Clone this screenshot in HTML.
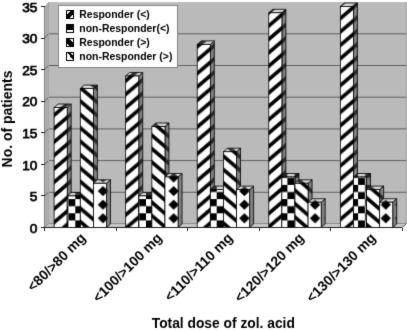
<!DOCTYPE html><html><head><meta charset="utf-8"><style>html,body{margin:0;padding:0;background:#fff;}svg{display:block;will-change:transform;}text{font-family:"Liberation Sans",sans-serif;font-weight:bold;}</style></head><body>
<svg width="407" height="331" viewBox="0 0 407 331">
<defs>
<pattern id="upF" patternUnits="userSpaceOnUse" x="55" y="127.8" width="15.71" height="13.4"><rect width="15.71" height="13.4" fill="#fff"/><polygon points="0,2.4 0,-2.4 15.71,-15.8 15.71,-11" fill="#000"/><polygon points="0,15.8 0,11 15.71,-2.4 15.71,2.4" fill="#000"/><polygon points="0,29.2 0,24.4 15.71,11 15.71,15.8" fill="#000"/></pattern>
<pattern id="dnF" patternUnits="userSpaceOnUse" x="55" y="133.1" width="15.71" height="13.4"><rect width="15.71" height="13.4" fill="#fff"/><polygon points="0,-15.8 0,-11 15.71,2.4 15.71,-2.4" fill="#000"/><polygon points="0,-2.4 0,2.4 15.71,15.8 15.71,11" fill="#000"/><polygon points="0,11 0,15.8 15.71,29.2 15.71,24.4" fill="#000"/></pattern>
<pattern id="ckF" patternUnits="userSpaceOnUse" x="75.3" y="213.3" width="14.14" height="14.2"><rect width="14.14" height="14.2" fill="#fff"/><rect x="0" y="7.1" width="7.07" height="7.1" fill="#000"/><rect x="7.07" y="0" width="7.07" height="7.1" fill="#000"/></pattern>
<pattern id="dmF" patternUnits="userSpaceOnUse" x="95.93" y="211.5" width="14.14" height="13.6"><rect width="14.14" height="13.6" fill="#fff"/><polygon points="7.07,1.6 12.27,6.8 7.07,12 1.87,6.8" fill="#000"/></pattern>
<pattern id="upS" patternUnits="userSpaceOnUse" x="55" y="127.8" width="15.71" height="13.4"><rect width="15.71" height="13.4" fill="#808080"/><polygon points="0,2.4 0,-2.4 15.71,-15.8 15.71,-11" fill="#2a2a2a"/><polygon points="0,15.8 0,11 15.71,-2.4 15.71,2.4" fill="#2a2a2a"/><polygon points="0,29.2 0,24.4 15.71,11 15.71,15.8" fill="#2a2a2a"/></pattern>
<pattern id="dnS" patternUnits="userSpaceOnUse" x="55" y="133.1" width="15.71" height="13.4"><rect width="15.71" height="13.4" fill="#808080"/><polygon points="0,-15.8 0,-11 15.71,2.4 15.71,-2.4" fill="#2a2a2a"/><polygon points="0,-2.4 0,2.4 15.71,15.8 15.71,11" fill="#2a2a2a"/><polygon points="0,11 0,15.8 15.71,29.2 15.71,24.4" fill="#2a2a2a"/></pattern>
<pattern id="ckS" patternUnits="userSpaceOnUse" x="75.3" y="213.3" width="14.14" height="14.2"><rect width="14.14" height="14.2" fill="#808080"/><rect x="0" y="7.1" width="7.07" height="7.1" fill="#2a2a2a"/><rect x="7.07" y="0" width="7.07" height="7.1" fill="#2a2a2a"/></pattern>
<pattern id="dmS" patternUnits="userSpaceOnUse" x="95.93" y="211.5" width="14.14" height="13.6"><rect width="14.14" height="13.6" fill="#808080"/><polygon points="7.07,1.6 12.27,6.8 7.07,12 1.87,6.8" fill="#2a2a2a"/></pattern>
<pattern id="upT" patternUnits="userSpaceOnUse" x="55" y="127.8" width="15.71" height="13.4"><rect width="15.71" height="13.4" fill="#d4d4d4"/><polygon points="0,2.4 0,-2.4 15.71,-15.8 15.71,-11" fill="#333"/><polygon points="0,15.8 0,11 15.71,-2.4 15.71,2.4" fill="#333"/><polygon points="0,29.2 0,24.4 15.71,11 15.71,15.8" fill="#333"/></pattern>
<pattern id="dnT" patternUnits="userSpaceOnUse" x="55" y="133.1" width="15.71" height="13.4"><rect width="15.71" height="13.4" fill="#d4d4d4"/><polygon points="0,-15.8 0,-11 15.71,2.4 15.71,-2.4" fill="#333"/><polygon points="0,-2.4 0,2.4 15.71,15.8 15.71,11" fill="#333"/><polygon points="0,11 0,15.8 15.71,29.2 15.71,24.4" fill="#333"/></pattern>
<pattern id="ckT" patternUnits="userSpaceOnUse" x="75.3" y="213.3" width="14.14" height="14.2"><rect width="14.14" height="14.2" fill="#d4d4d4"/><rect x="0" y="7.1" width="7.07" height="7.1" fill="#333"/><rect x="7.07" y="0" width="7.07" height="7.1" fill="#333"/></pattern>
<pattern id="dmT" patternUnits="userSpaceOnUse" x="95.93" y="211.5" width="14.14" height="13.6"><rect width="14.14" height="13.6" fill="#d4d4d4"/><polygon points="7.07,1.6 12.27,6.8 7.07,12 1.87,6.8" fill="#333"/></pattern>
<filter id="bl" x="0" y="0" width="407" height="331" filterUnits="userSpaceOnUse" color-interpolation-filters="sRGB"><feConvolveMatrix order="3" kernelMatrix="1 8 1 8 64 8 1 8 1" divisor="100" edgeMode="duplicate"/></filter>
</defs>
<g filter="url(#bl)">
<rect x="48.5" y="2.1" width="358.5" height="221.9" fill="#bababa"/>
<rect x="406" y="2.1" width="1" height="221.9" fill="#a8a8a8"/>
<polygon points="44.5,6.5 48.5,2.1 48.5,224 44.5,227.5" fill="#acacac"/>
<polygon points="44.5,227.5 48.5,224 406.3,224 402.3,227.5" fill="#c6c6c6"/>
<line x1="48.5" y1="223.5" x2="406.3" y2="223.5" stroke="#8c8c8c" stroke-width="1" shape-rendering="crispEdges"/>
<line x1="44.5" y1="227.5" x2="48.5" y2="224" stroke="#8c8c8c" stroke-width="1"/>
<line x1="44.5" y1="195.93" x2="48.5" y2="192.3" stroke="#606060" stroke-width="1"/>
<line x1="48.5" y1="192.3" x2="406" y2="192.3" stroke="#606060" stroke-width="1"/>
<line x1="44.5" y1="164.36" x2="48.5" y2="160.6" stroke="#606060" stroke-width="1"/>
<line x1="48.5" y1="160.6" x2="406" y2="160.6" stroke="#606060" stroke-width="1"/>
<line x1="44.5" y1="132.79" x2="48.5" y2="128.9" stroke="#606060" stroke-width="1"/>
<line x1="48.5" y1="128.9" x2="406" y2="128.9" stroke="#606060" stroke-width="1"/>
<line x1="44.5" y1="101.21" x2="48.5" y2="97.2" stroke="#606060" stroke-width="1"/>
<line x1="48.5" y1="97.2" x2="406" y2="97.2" stroke="#606060" stroke-width="1"/>
<line x1="44.5" y1="69.64" x2="48.5" y2="65.5" stroke="#606060" stroke-width="1"/>
<line x1="48.5" y1="65.5" x2="406" y2="65.5" stroke="#606060" stroke-width="1"/>
<line x1="44.5" y1="38.07" x2="48.5" y2="33.8" stroke="#606060" stroke-width="1"/>
<line x1="48.5" y1="33.8" x2="406" y2="33.8" stroke="#606060" stroke-width="1"/>
<line x1="48.5" y1="2.1" x2="48.5" y2="224" stroke="#a4a4a4" stroke-width="1" shape-rendering="crispEdges"/>
<polygon points="67.2,107.53 71.2,104.03 71.2,224 67.2,227.5" fill="url(#upS)" stroke="#000" stroke-width="0.8"/>
<polygon points="54.1,107.53 58.1,104.03 71.2,104.03 67.2,107.53" fill="url(#upT)" stroke="#000" stroke-width="0.8"/>
<rect x="54.1" y="107.53" width="13.1" height="119.97" fill="url(#upF)" stroke="#000" stroke-width="0.8"/>
<polygon points="80.3,195.93 84.3,192.43 84.3,224 80.3,227.5" fill="url(#ckS)" stroke="#000" stroke-width="0.8"/>
<polygon points="67.2,195.93 71.2,192.43 84.3,192.43 80.3,195.93" fill="url(#ckT)" stroke="#000" stroke-width="0.8"/>
<rect x="67.2" y="195.93" width="13.1" height="31.57" fill="url(#ckF)" stroke="#000" stroke-width="0.8"/>
<polygon points="93.4,88.59 97.4,85.09 97.4,224 93.4,227.5" fill="url(#dnS)" stroke="#000" stroke-width="0.8"/>
<polygon points="80.3,88.59 84.3,85.09 97.4,85.09 93.4,88.59" fill="url(#dnT)" stroke="#000" stroke-width="0.8"/>
<rect x="80.3" y="88.59" width="13.1" height="138.91" fill="url(#dnF)" stroke="#000" stroke-width="0.8"/>
<polygon points="106.5,183.3 110.5,179.8 110.5,224 106.5,227.5" fill="url(#dmS)" stroke="#000" stroke-width="0.8"/>
<polygon points="93.4,183.3 97.4,179.8 110.5,179.8 106.5,183.3" fill="url(#dmT)" stroke="#000" stroke-width="0.8"/>
<rect x="93.4" y="183.3" width="13.1" height="44.2" fill="url(#dmF)" stroke="#000" stroke-width="0.8"/>
<polygon points="138.76,75.96 142.76,72.46 142.76,224 138.76,227.5" fill="url(#upS)" stroke="#000" stroke-width="0.8"/>
<polygon points="125.66,75.96 129.66,72.46 142.76,72.46 138.76,75.96" fill="url(#upT)" stroke="#000" stroke-width="0.8"/>
<rect x="125.66" y="75.96" width="13.1" height="151.54" fill="url(#upF)" stroke="#000" stroke-width="0.8"/>
<polygon points="151.86,195.93 155.86,192.43 155.86,224 151.86,227.5" fill="url(#ckS)" stroke="#000" stroke-width="0.8"/>
<polygon points="138.76,195.93 142.76,192.43 155.86,192.43 151.86,195.93" fill="url(#ckT)" stroke="#000" stroke-width="0.8"/>
<rect x="138.76" y="195.93" width="13.1" height="31.57" fill="url(#ckF)" stroke="#000" stroke-width="0.8"/>
<polygon points="164.96,126.47 168.96,122.97 168.96,224 164.96,227.5" fill="url(#dnS)" stroke="#000" stroke-width="0.8"/>
<polygon points="151.86,126.47 155.86,122.97 168.96,122.97 164.96,126.47" fill="url(#dnT)" stroke="#000" stroke-width="0.8"/>
<rect x="151.86" y="126.47" width="13.1" height="101.03" fill="url(#dnF)" stroke="#000" stroke-width="0.8"/>
<polygon points="178.06,176.99 182.06,173.49 182.06,224 178.06,227.5" fill="url(#dmS)" stroke="#000" stroke-width="0.8"/>
<polygon points="164.96,176.99 168.96,173.49 182.06,173.49 178.06,176.99" fill="url(#dmT)" stroke="#000" stroke-width="0.8"/>
<rect x="164.96" y="176.99" width="13.1" height="50.51" fill="url(#dmF)" stroke="#000" stroke-width="0.8"/>
<polygon points="210.32,44.39 214.32,40.89 214.32,224 210.32,227.5" fill="url(#upS)" stroke="#000" stroke-width="0.8"/>
<polygon points="197.22,44.39 201.22,40.89 214.32,40.89 210.32,44.39" fill="url(#upT)" stroke="#000" stroke-width="0.8"/>
<rect x="197.22" y="44.39" width="13.1" height="183.11" fill="url(#upF)" stroke="#000" stroke-width="0.8"/>
<polygon points="223.42,189.61 227.42,186.11 227.42,224 223.42,227.5" fill="url(#ckS)" stroke="#000" stroke-width="0.8"/>
<polygon points="210.32,189.61 214.32,186.11 227.42,186.11 223.42,189.61" fill="url(#ckT)" stroke="#000" stroke-width="0.8"/>
<rect x="210.32" y="189.61" width="13.1" height="37.89" fill="url(#ckF)" stroke="#000" stroke-width="0.8"/>
<polygon points="236.52,151.73 240.52,148.23 240.52,224 236.52,227.5" fill="url(#dnS)" stroke="#000" stroke-width="0.8"/>
<polygon points="223.42,151.73 227.42,148.23 240.52,148.23 236.52,151.73" fill="url(#dnT)" stroke="#000" stroke-width="0.8"/>
<rect x="223.42" y="151.73" width="13.1" height="75.77" fill="url(#dnF)" stroke="#000" stroke-width="0.8"/>
<polygon points="249.62,189.61 253.62,186.11 253.62,224 249.62,227.5" fill="url(#dmS)" stroke="#000" stroke-width="0.8"/>
<polygon points="236.52,189.61 240.52,186.11 253.62,186.11 249.62,189.61" fill="url(#dmT)" stroke="#000" stroke-width="0.8"/>
<rect x="236.52" y="189.61" width="13.1" height="37.89" fill="url(#dmF)" stroke="#000" stroke-width="0.8"/>
<polygon points="281.88,12.81 285.88,9.31 285.88,224 281.88,227.5" fill="url(#upS)" stroke="#000" stroke-width="0.8"/>
<polygon points="268.78,12.81 272.78,9.31 285.88,9.31 281.88,12.81" fill="url(#upT)" stroke="#000" stroke-width="0.8"/>
<rect x="268.78" y="12.81" width="13.1" height="214.69" fill="url(#upF)" stroke="#000" stroke-width="0.8"/>
<polygon points="294.98,176.99 298.98,173.49 298.98,224 294.98,227.5" fill="url(#ckS)" stroke="#000" stroke-width="0.8"/>
<polygon points="281.88,176.99 285.88,173.49 298.98,173.49 294.98,176.99" fill="url(#ckT)" stroke="#000" stroke-width="0.8"/>
<rect x="281.88" y="176.99" width="13.1" height="50.51" fill="url(#ckF)" stroke="#000" stroke-width="0.8"/>
<polygon points="308.08,183.3 312.08,179.8 312.08,224 308.08,227.5" fill="url(#dnS)" stroke="#000" stroke-width="0.8"/>
<polygon points="294.98,183.3 298.98,179.8 312.08,179.8 308.08,183.3" fill="url(#dnT)" stroke="#000" stroke-width="0.8"/>
<rect x="294.98" y="183.3" width="13.1" height="44.2" fill="url(#dnF)" stroke="#000" stroke-width="0.8"/>
<polygon points="321.18,202.24 325.18,198.74 325.18,224 321.18,227.5" fill="url(#dmS)" stroke="#000" stroke-width="0.8"/>
<polygon points="308.08,202.24 312.08,198.74 325.18,198.74 321.18,202.24" fill="url(#dmT)" stroke="#000" stroke-width="0.8"/>
<rect x="308.08" y="202.24" width="13.1" height="25.26" fill="url(#dmF)" stroke="#000" stroke-width="0.8"/>
<polygon points="353.44,6.5 357.44,3 357.44,224 353.44,227.5" fill="url(#upS)" stroke="#000" stroke-width="0.8"/>
<polygon points="340.34,6.5 344.34,3 357.44,3 353.44,6.5" fill="url(#upT)" stroke="#000" stroke-width="0.8"/>
<rect x="340.34" y="6.5" width="13.1" height="221" fill="url(#upF)" stroke="#000" stroke-width="0.8"/>
<polygon points="366.54,176.99 370.54,173.49 370.54,224 366.54,227.5" fill="url(#ckS)" stroke="#000" stroke-width="0.8"/>
<polygon points="353.44,176.99 357.44,173.49 370.54,173.49 366.54,176.99" fill="url(#ckT)" stroke="#000" stroke-width="0.8"/>
<rect x="353.44" y="176.99" width="13.1" height="50.51" fill="url(#ckF)" stroke="#000" stroke-width="0.8"/>
<polygon points="379.64,189.61 383.64,186.11 383.64,224 379.64,227.5" fill="url(#dnS)" stroke="#000" stroke-width="0.8"/>
<polygon points="366.54,189.61 370.54,186.11 383.64,186.11 379.64,189.61" fill="url(#dnT)" stroke="#000" stroke-width="0.8"/>
<rect x="366.54" y="189.61" width="13.1" height="37.89" fill="url(#dnF)" stroke="#000" stroke-width="0.8"/>
<polygon points="392.74,202.24 396.74,198.74 396.74,224 392.74,227.5" fill="url(#dmS)" stroke="#000" stroke-width="0.8"/>
<polygon points="379.64,202.24 383.64,198.74 396.74,198.74 392.74,202.24" fill="url(#dmT)" stroke="#000" stroke-width="0.8"/>
<rect x="379.64" y="202.24" width="13.1" height="25.26" fill="url(#dmF)" stroke="#000" stroke-width="0.8"/>
<line x1="44.5" y1="6.5" x2="44.5" y2="227.5" stroke="#858585" stroke-width="1" shape-rendering="crispEdges"/>
<line x1="41" y1="227.5" x2="402.3" y2="227.5" stroke="#222" stroke-width="1" shape-rendering="crispEdges"/>
<line x1="402.3" y1="227.5" x2="406.3" y2="224" stroke="#555" stroke-width="1"/>
<line x1="41" y1="227.5" x2="45" y2="227.5" stroke="#222" stroke-width="1" shape-rendering="crispEdges"/>
<text x="37.4" y="232.75" font-size="13.7" text-anchor="end" style="font-weight:normal;stroke:#000;stroke-width:0.75px;paint-order:stroke">0</text>
<line x1="41" y1="195.93" x2="45" y2="195.93" stroke="#222" stroke-width="1" shape-rendering="crispEdges"/>
<text x="37.4" y="201.18" font-size="13.7" text-anchor="end" style="font-weight:normal;stroke:#000;stroke-width:0.75px;paint-order:stroke">5</text>
<line x1="41" y1="164.36" x2="45" y2="164.36" stroke="#222" stroke-width="1" shape-rendering="crispEdges"/>
<text x="37.4" y="169.61" font-size="13.7" text-anchor="end" style="font-weight:normal;stroke:#000;stroke-width:0.75px;paint-order:stroke">10</text>
<line x1="41" y1="132.79" x2="45" y2="132.79" stroke="#222" stroke-width="1" shape-rendering="crispEdges"/>
<text x="37.4" y="138.04" font-size="13.7" text-anchor="end" style="font-weight:normal;stroke:#000;stroke-width:0.75px;paint-order:stroke">15</text>
<line x1="41" y1="101.21" x2="45" y2="101.21" stroke="#222" stroke-width="1" shape-rendering="crispEdges"/>
<text x="37.4" y="106.46" font-size="13.7" text-anchor="end" style="font-weight:normal;stroke:#000;stroke-width:0.75px;paint-order:stroke">20</text>
<line x1="41" y1="69.64" x2="45" y2="69.64" stroke="#222" stroke-width="1" shape-rendering="crispEdges"/>
<text x="37.4" y="74.89" font-size="13.7" text-anchor="end" style="font-weight:normal;stroke:#000;stroke-width:0.75px;paint-order:stroke">25</text>
<line x1="41" y1="38.07" x2="45" y2="38.07" stroke="#222" stroke-width="1" shape-rendering="crispEdges"/>
<text x="37.4" y="43.32" font-size="13.7" text-anchor="end" style="font-weight:normal;stroke:#000;stroke-width:0.75px;paint-order:stroke">30</text>
<line x1="41" y1="6.5" x2="45" y2="6.5" stroke="#222" stroke-width="1" shape-rendering="crispEdges"/>
<text x="37.4" y="11.75" font-size="13.7" text-anchor="end" style="font-weight:normal;stroke:#000;stroke-width:0.75px;paint-order:stroke">35</text>
<line x1="44.5" y1="227.5" x2="44.5" y2="230.5" stroke="#222" stroke-width="1" shape-rendering="crispEdges"/>
<line x1="116.06" y1="227.5" x2="116.06" y2="230.5" stroke="#222" stroke-width="1" shape-rendering="crispEdges"/>
<line x1="187.62" y1="227.5" x2="187.62" y2="230.5" stroke="#222" stroke-width="1" shape-rendering="crispEdges"/>
<line x1="259.18" y1="227.5" x2="259.18" y2="230.5" stroke="#222" stroke-width="1" shape-rendering="crispEdges"/>
<line x1="330.74" y1="227.5" x2="330.74" y2="230.5" stroke="#222" stroke-width="1" shape-rendering="crispEdges"/>
<line x1="402.3" y1="227.5" x2="402.3" y2="230.5" stroke="#222" stroke-width="1" shape-rendering="crispEdges"/>
<text x="0" y="0" font-size="13.9" text-anchor="end" transform="translate(86.58,238.8) rotate(-45)">&lt;80/&gt;80 mg</text>
<text x="0" y="0" font-size="13.9" text-anchor="end" transform="translate(162.84,238.8) rotate(-45)">&lt;100/&gt;100 mg</text>
<text x="0" y="0" font-size="13.9" text-anchor="end" transform="translate(233.6,238.8) rotate(-45)">&lt;110/&gt;110 mg</text>
<text x="0" y="0" font-size="13.9" text-anchor="end" transform="translate(304.76,238.8) rotate(-45)">&lt;120/&gt;120 mg</text>
<text x="0" y="0" font-size="13.9" text-anchor="end" transform="translate(376.52,238.8) rotate(-45)">&lt;130/&gt;130 mg</text>
<text x="223.3" y="327.8" font-size="13.8" text-anchor="middle">Total dose of zol. acid</text>
<text x="0" y="0" font-size="13.95" text-anchor="middle" transform="translate(12.3,119) rotate(-90)">No. of patients</text>
<rect x="58.5" y="5.5" width="119" height="62" fill="#fff" stroke="#888" stroke-width="1" shape-rendering="crispEdges"/>
<g shape-rendering="crispEdges">
<text x="79.3" y="18" font-size="10.45">Responder (&lt;)</text>
<rect x="66.5" y="10.5" width="7" height="8" fill="#000" stroke="#000" stroke-width="1"/>
<polygon points="67.0,11 70.0,11 67.0,14" fill="#fff"/>
<polygon points="73.0,14.5 73.0,18 69.5,18" fill="#fff"/>
<text x="79.3" y="32" font-size="10.45">non-Responder(&lt;)</text>
<rect x="66.5" y="24.5" width="7" height="8" fill="#000" stroke="#000" stroke-width="1"/>
<rect x="67.0" y="30" width="6" height="1.5" fill="#fff"/>
<text x="79.3" y="46" font-size="10.45">Responder (&gt;)</text>
<rect x="66.5" y="38.5" width="7" height="8" fill="#000" stroke="#000" stroke-width="1"/>
<polygon points="69.0,39 73.0,39 73.0,43" fill="#fff"/>
<polygon points="67.0,44 67.0,46 69.0,46" fill="#fff"/>
<text x="79.3" y="60" font-size="10.45">non-Responder (&gt;)</text>
<rect x="66.5" y="52.5" width="7" height="8" fill="#fff" stroke="#000" stroke-width="1"/>
<polygon points="68.0,53 71.0,53 73.0,55.5 73.0,60" fill="#000"/>
</g>
</g></svg></body></html>
